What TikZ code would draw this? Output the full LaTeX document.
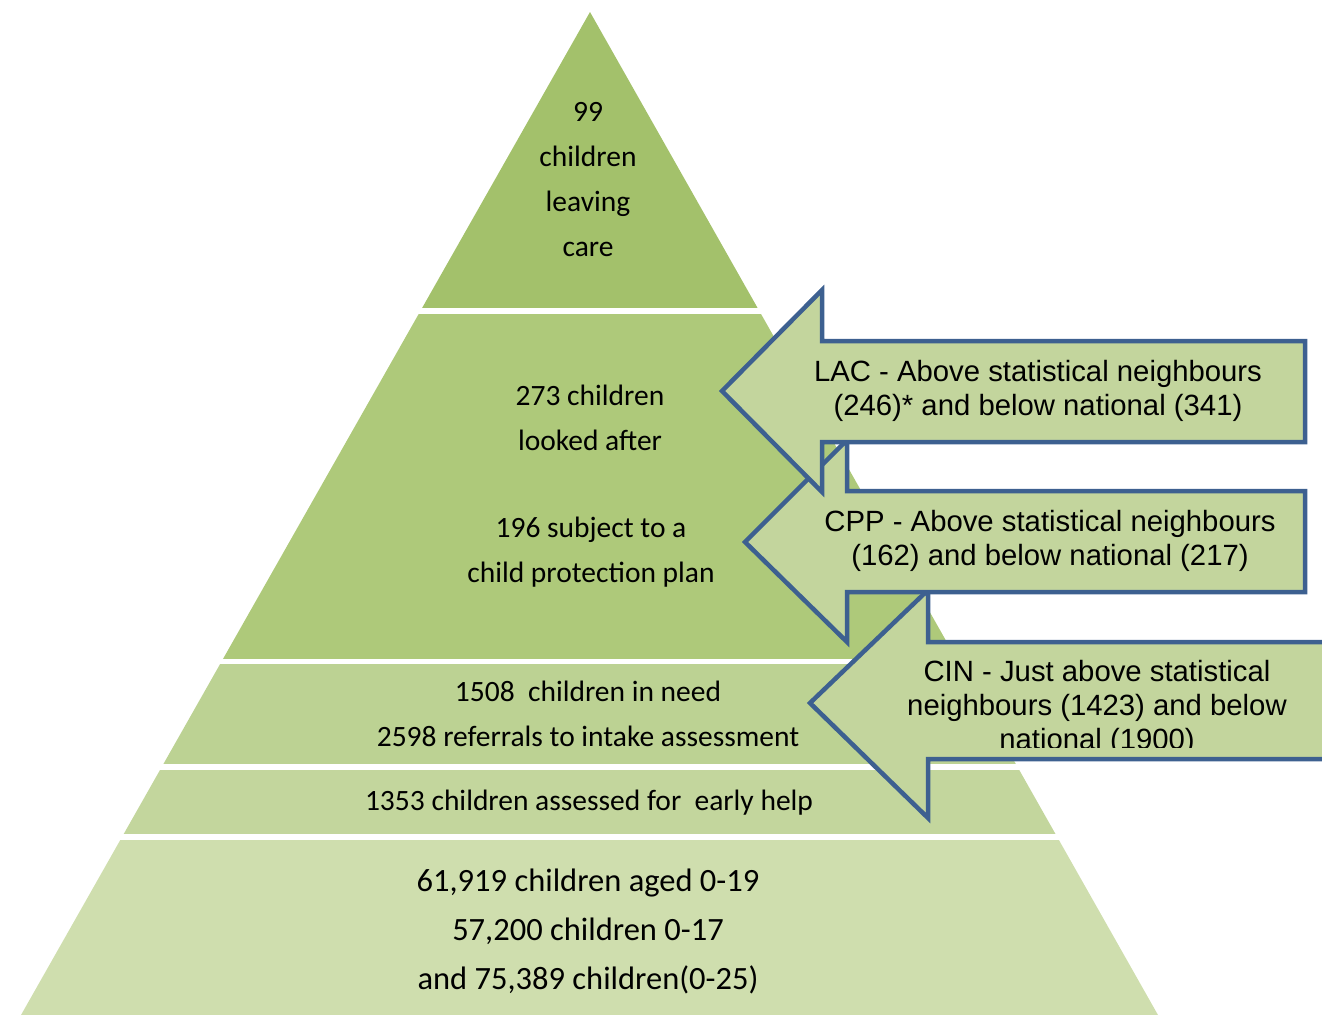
\documentclass[tikz,border=0pt]{standalone}
\usepackage{fontspec}
\setmainfont{Carlito}
\newfontfamily\arialfont{Liberation Sans}
\usepackage{xcolor}
\definecolor{bandA}{HTML}{A3C16B}
\definecolor{bandB}{HTML}{AEC97A}
\definecolor{bandC}{HTML}{BCD293}
\definecolor{bandD}{HTML}{C3D69D}
\definecolor{bandE}{HTML}{CFDEAE}
\definecolor{calloutfill}{HTML}{C3D59D}
\definecolor{calloutline}{HTML}{3D6090}
\begin{document}
\begin{tikzpicture}[x=1pt,y=-1pt,
      level/.style={
        align=center,
        inner sep=0pt,
        font=\fontsize{29.5}{45}\selectfont
      },
      callout/.style={
        fill=calloutfill,
        draw=calloutline,
        line width=4.5pt
      },
      note/.style={
        align=center,
        inner sep=0pt,
        font=\arialfont\fontsize{29.3}{34}\selectfont
      }
    ]
    \useasboundingbox (0,0) rectangle (1322,1015);
    % pyramid
    \begin{scope}
      \clip (590,12) -- (21,1015) -- (1158,1015) -- cycle;
      \fill[bandA] (0,0) rectangle (1322,308);
      \fill[bandB] (0,314) rectangle (1322,659);
      \fill[bandC] (0,664) rectangle (1322,764);
      \fill[bandD] (0,770) rectangle (1322,834);
      \fill[bandE] (0,840) rectangle (1322,1015);
    \end{scope}
    \node[level] (leaving) at (588,180) {99\\children\\leaving\\care};
    \node[level] (lookedafter) at (590,418) {273 children\\looked after};
    \node[level] (cpplan) at (591,552) {196 subject to a\\child protection plan};
    \node[level] (need) at (588,714) {1508\ \ children in need\\2598 referrals to intake assessment};
    \node[level] (earlyhelp) at (589,803) {1353 children assessed for\ \ early help};
    \node[level,font=\fontsize{32.5}{49}\selectfont] (population) at (588,931) {61,919 children aged 0-19\\57,200 children 0-17\\and 75,389 children(0-25)};
    % callouts
    \draw[callout] (1340,642) -- (928,642) -- (928,590) -- (810,703) -- (928,818) -- (928,759) -- (1340,759) -- cycle;
    \draw[callout] (1305,491) -- (847,491) -- (847,440) -- (745,542) -- (847,642) -- (847,592) -- (1305,592) -- cycle;
    \draw[callout] (1305,341) -- (822,341) -- (822,290) -- (722,391) -- (822,492) -- (822,442) -- (1305,442) -- cycle;
    \node[note] (lac) at (1038,391) {LAC - Above statistical neighbours\\(246)* and below national (341)};
    \node[note] (cpp) at (1050,541) {CPP - Above statistical neighbours\\(162) and below national (217)};
    \begin{scope}
      \clip (860,645) rectangle (1322,747);
      \node[note] (cin) at (1097,708) {CIN - Just above statistical\\neighbours (1423) and below\\national (1900)};
    \end{scope}
\end{tikzpicture}
\end{document}
